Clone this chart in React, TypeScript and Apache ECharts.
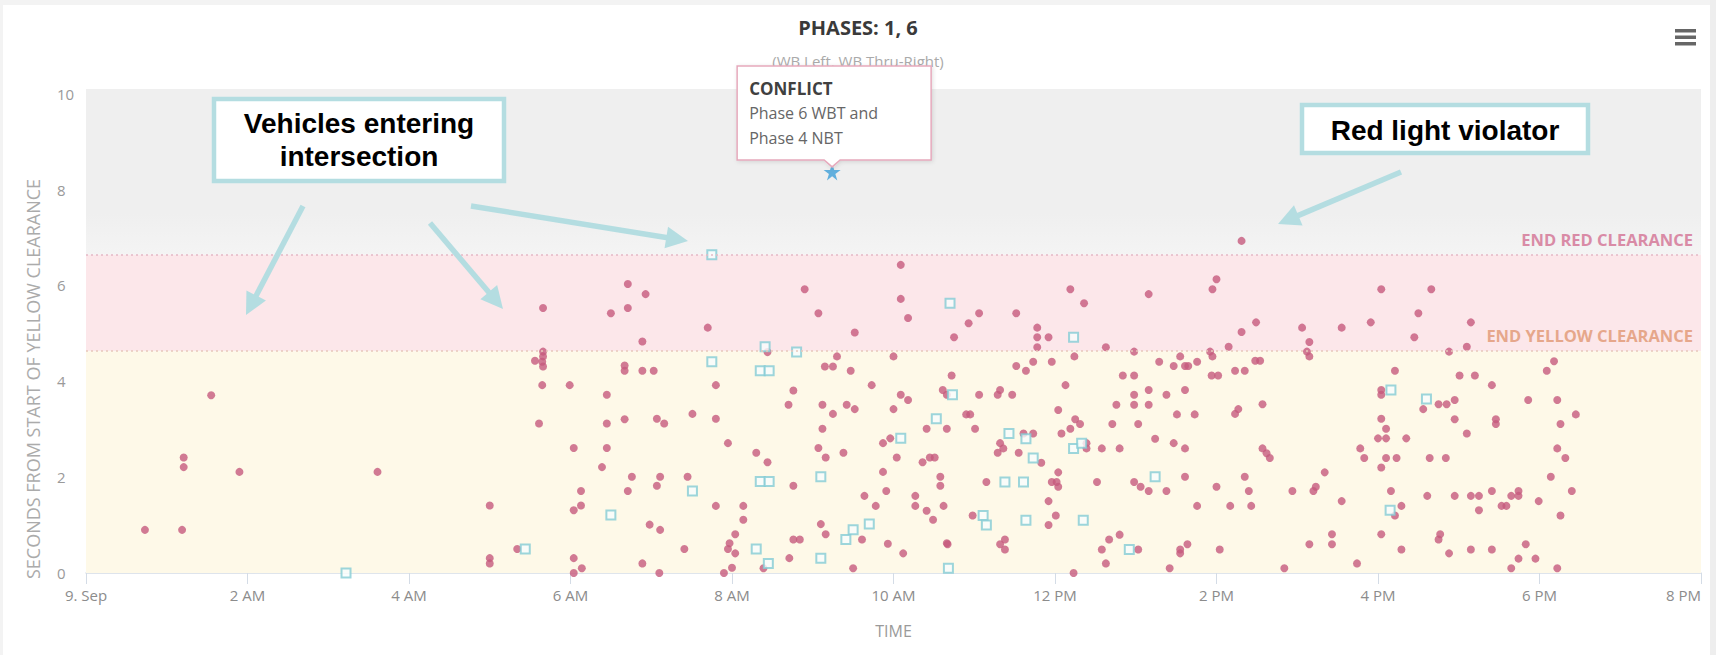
import React, { useEffect, useRef } from "react";
import * as echarts from "echarts";

// ---------- data ----------
const tickLabels = ["9. Sep", "2 AM", "4 AM", "6 AM", "8 AM", "10 AM", "12 PM", "2 PM", "4 PM", "6 PM", "8 PM"];
const endYellowClearance = 4.63;
const endRedClearance = 6.64;

// [hours after midnight, seconds from start of yellow clearance]
const vehicleEntries: [number, number][] = [
  [0.73, 0.9], [1.19, 0.9], [1.21, 2.41], [1.21, 2.21], [1.55, 3.71], [1.9, 2.11], [3.61, 2.11],
  [5.66, 5.53], [6.71, 6.03], [6.93, 5.82], [6.5, 5.42], [6.71, 5.53], [6.89, 4.83],
  [5.66, 4.62], [5.66, 4.52], [5.56, 4.43], [5.65, 4.41], [5.66, 4.31],
  [6.67, 4.33], [6.67, 4.22], [6.89, 4.22], [7.03, 4.22],
  [5.65, 3.92], [5.99, 3.92], [6.45, 3.72],
  [5.61, 3.12], [6.45, 3.12], [6.67, 3.21], [7.07, 3.22], [7.16, 3.12], [7.51, 3.32],
  [6.04, 2.61], [6.45, 2.61], [6.39, 2.21], [6.76, 2.01], [7.11, 2.01], [7.45, 2.01], [7.07, 1.82],
  [6.13, 1.71], [6.71, 1.71], [5.0, 1.41], [6.13, 1.41], [6.04, 1.31], [6.98, 1.01], [7.11, 0.9],
  [5.34, 0.5], [5.0, 0.31], [5.0, 0.2], [6.04, 0.31], [6.14, 0.1], [6.04, 0.0], [6.89, 0.2], [7.1, 0.0], [7.41, 0.5],
  [7.8, 1.4], [8.14, 1.4], [8.14, 1.11], [8.04, 0.81], [7.97, 0.62], [7.95, 0.5], [8.04, 0.41], [8.0, 0.11], [7.9, 0.0],
  [8.39, 0.1], [8.76, 1.82], [8.71, 0.31], [8.76, 0.7], [8.84, 0.7],
  [9.1, 1.02], [9.16, 0.81], [9.64, 1.61], [9.78, 1.4], [9.91, 1.71], [9.61, 0.7], [9.5, 0.1], [9.93, 0.61], [10.12, 0.41],
  [10.27, 1.61], [10.27, 1.4], [10.41, 1.3], [10.49, 1.11], [10.62, 1.4], [10.58, 1.82], [10.66, 0.62],
  [10.09, 6.43], [8.9, 5.92], [10.09, 5.72], [9.07, 5.42], [10.18, 5.32], [7.7, 5.12], [9.52, 5.02],
  [8.44, 4.61], [9.3, 4.52], [9.15, 4.31], [9.25, 4.31], [9.47, 4.22], [10.0, 4.52],
  [7.8, 3.92], [8.76, 3.81], [8.7, 3.51], [9.12, 3.51], [9.25, 3.32], [9.42, 3.51], [9.52, 3.42], [9.73, 3.92],
  [10.09, 3.72], [10.18, 3.61], [10.0, 3.42], [10.61, 3.82], [10.66, 3.72],
  [7.8, 3.22], [9.12, 3.01], [10.41, 3.01], [10.66, 3.01],
  [7.95, 2.71], [9.87, 2.71], [9.96, 2.81], [9.07, 2.61], [9.16, 2.41], [9.38, 2.51], [8.3, 2.51], [8.44, 2.31], [10.04, 2.41],
  [10.36, 2.31], [10.45, 2.41], [10.51, 2.41], [9.87, 2.11], [10.58, 2.01],
  [12.19, 5.92], [13.16, 5.82], [12.36, 5.63], [11.06, 5.42], [11.52, 5.42], [10.93, 5.21],
  [11.78, 5.12], [11.78, 4.92], [11.78, 4.71], [11.92, 4.92], [10.75, 4.92], [12.63, 4.71], [12.98, 4.62],
  [11.73, 4.41], [11.64, 4.22], [11.52, 4.32], [11.96, 4.41], [12.24, 4.52], [13.29, 4.41],
  [13.47, 4.32], [13.55, 4.52], [13.61, 4.32], [13.65, 4.32], [13.76, 4.41],
  [10.72, 4.12], [12.84, 4.12], [12.98, 4.12], [12.13, 3.92],
  [11.06, 3.72], [11.32, 3.82], [11.29, 3.72], [11.47, 3.72], [12.98, 3.72], [12.98, 3.51], [13.16, 3.82], [13.16, 3.51],
  [13.38, 3.72], [13.61, 3.82], [12.76, 3.51], [12.04, 3.4],
  [10.9, 3.31], [10.95, 3.31], [13.51, 3.31], [13.73, 3.31],
  [11.01, 3.01], [12.25, 3.21], [12.31, 3.11], [12.08, 2.91], [12.19, 3.01], [12.71, 3.11], [13.03, 3.11],
  [11.61, 2.91], [11.73, 2.91], [11.32, 2.71], [11.36, 2.6], [11.29, 2.51], [11.55, 2.51], [11.83, 2.3],
  [12.39, 2.71], [12.39, 2.6], [12.58, 2.6], [12.8, 2.6], [13.24, 2.8], [13.47, 2.71], [13.61, 2.6],
  [11.15, 1.9], [11.96, 1.9], [12.02, 1.9], [12.04, 1.8], [12.04, 2.1], [12.52, 1.9], [12.98, 1.9], [13.06, 1.8],
  [13.16, 1.71], [13.38, 1.71], [13.61, 2.01],
  [11.92, 1.5], [13.76, 1.4], [10.98, 1.2], [12.01, 1.2], [11.92, 1.0],
  [10.67, 0.6], [11.32, 0.6], [11.38, 0.7], [11.38, 0.49],
  [12.8, 0.8], [12.67, 0.7], [12.58, 0.49], [12.63, 0.2], [13.03, 0.49],
  [13.55, 0.49], [13.64, 0.6], [13.55, 0.41], [13.42, 0.1], [12.23, 0.0],
  [14.31, 6.93], [14.0, 6.13], [13.95, 5.92], [16.04, 5.92], [16.66, 5.92], [16.5, 5.42], [16.45, 4.92],
  [14.49, 5.23], [14.31, 5.03], [15.06, 5.12], [15.55, 5.12], [15.91, 5.23],
  [15.15, 4.82], [15.12, 4.62], [15.15, 4.52], [14.15, 4.72], [13.92, 4.62], [13.95, 4.52],
  [14.48, 4.43], [14.54, 4.43], [14.23, 4.22], [14.35, 4.22], [13.94, 4.12], [14.02, 4.12],
  [16.88, 4.62], [16.21, 4.22], [16.04, 3.82], [16.04, 3.72], [16.56, 3.42], [16.75, 3.52], [16.85, 3.52],
  [14.57, 3.52], [14.23, 3.32], [14.27, 3.42], [16.04, 3.22], [16.1, 3.01], [16.0, 2.81], [16.1, 2.81], [16.35, 2.81],
  [14.57, 2.6], [14.62, 2.5], [14.66, 2.4], [15.78, 2.6], [15.83, 2.4], [16.1, 2.4], [16.23, 2.4], [16.04, 2.2],
  [16.64, 2.4], [16.84, 2.4],
  [14.35, 2.01], [14.0, 1.8], [14.4, 1.71], [15.34, 2.1], [14.94, 1.71], [15.23, 1.8], [15.2, 1.71], [16.16, 1.71],
  [16.61, 1.61], [15.55, 1.5],
  [14.17, 1.4], [14.43, 1.4], [16.21, 1.2], [16.29, 1.4],
  [15.43, 0.81], [15.43, 0.6], [15.15, 0.6], [16.04, 0.81], [14.04, 0.49], [16.29, 0.49], [16.77, 0.81], [16.75, 0.7],
  [16.88, 0.41], [15.74, 0.2], [14.84, 0.1],
  [17.15, 5.23], [17.1, 4.72], [17.01, 4.12], [17.2, 4.12], [17.41, 3.92], [18.09, 4.22], [18.18, 4.42], [17.86, 3.61],
  [18.22, 3.61], [18.45, 3.31], [18.26, 3.11],
  [16.95, 3.61], [16.95, 3.21], [17.46, 3.21], [17.46, 3.11], [17.1, 2.91], [18.22, 2.6], [18.32, 2.4], [18.14, 2.01],
  [16.95, 1.61], [17.15, 1.61], [17.25, 1.61], [17.41, 1.71], [17.25, 1.31], [17.53, 1.4], [17.59, 1.4], [17.65, 1.61],
  [17.74, 1.71], [17.74, 1.61], [17.99, 1.5], [18.4, 1.71], [18.26, 1.2],
  [17.15, 0.49], [17.41, 0.49], [17.83, 0.6], [17.74, 0.3], [17.65, 0.1], [17.95, 0.3], [18.22, 0.1],
];

const conflictEntries: [number, number][] = [
  [3.22, 0.0], [5.44, 0.5], [6.5, 1.21], [7.51, 1.71], [7.75, 6.64], [7.75, 4.41], [8.41, 4.72], [8.8, 4.61],
  [8.35, 4.22], [8.46, 4.22], [8.35, 1.91], [8.46, 1.91], [9.1, 2.01], [8.3, 0.5], [8.45, 0.2], [9.1, 0.31],
  [9.5, 0.9], [9.41, 0.7], [9.7, 1.02], [10.53, 3.22], [10.09, 2.81], [10.68, 0.1], [10.7, 5.63], [10.73, 3.72],
  [12.23, 4.92], [11.43, 2.91], [11.64, 2.8], [11.73, 2.4], [12.23, 2.6], [12.33, 2.71], [11.38, 1.9], [11.61, 1.9],
  [13.24, 2.01], [11.11, 1.2], [11.15, 1.0], [11.64, 1.1], [12.35, 1.1], [12.92, 0.49], [16.16, 3.82], [16.6, 3.63],
  [16.15, 1.31],
];

const conflictStar: [number, number][] = [[9.24, 8.37]];
const conflictText = ["CONFLICT", "Phase 6 WBT and", "Phase 4 NBT"];

const FONT = "'Open Sans', 'Noto Sans', sans-serif";
const ANNO = "#b4dde1";

function arrow(x1: number, y1: number, x2: number, y2: number) {
  const dx = x2 - x1, dy = y2 - y1;
  const len = Math.hypot(dx, dy);
  const ux = dx / len, uy = dy / len;
  const hl = 22, hw = 11;
  const bx = x2 - ux * hl, by = y2 - uy * hl;
  return [
    { type: "line", z: 50, shape: { x1, y1, x2: bx + ux * 3, y2: by + uy * 3 }, style: { stroke: ANNO, lineWidth: 5.5 } },
    {
      type: "polygon", z: 50,
      shape: { points: [[x2, y2], [bx - uy * hw, by + ux * hw], [bx + uy * hw, by - ux * hw]] },
      style: { fill: ANNO },
    },
  ];
}

export default function App() {
  const ref = useRef<HTMLDivElement>(null);

  useEffect(() => {
    const chart = echarts.init(ref.current as HTMLDivElement, null, { renderer: "svg" });

    const option: any = {
      animation: false,
      backgroundColor: "#ffffff",
      title: {
        text: "PHASES: 1, 6",
        subtext: "(WB Left, WB Thru-Right)",
        left: "center",
        top: 12,
        itemGap: 16,
        textStyle: { fontFamily: FONT, fontSize: 20, fontWeight: "bold", color: "#3a3a3a" },
        subtextStyle: { fontFamily: FONT, fontSize: 15, color: "#aaaaaa" },
      },
      grid: { left: 86, right: 15, top: 89, bottom: 82, containLabel: false },
      xAxis: {
        type: "value",
        min: 0,
        max: 20,
        interval: 2,
        name: "TIME",
        nameLocation: "middle",
        nameGap: 50,
        nameTextStyle: { fontFamily: FONT, fontSize: 16, color: "#9a9a9a" },
        axisLine: { show: true, lineStyle: { color: "#d4dce6", width: 1.5 } },
        axisTick: { show: true, length: 11, lineStyle: { color: "#d4dce6", width: 1 } },
        splitLine: { show: false },
        axisLabel: {
          fontFamily: FONT,
          fontSize: 15,
          color: "#8c8c8c",
          margin: 14,
          alignMaxLabel: "right",
          formatter: (v: number) => tickLabels[Math.round(v / 2)] ?? "",
        },
      },
      yAxis: {
        type: "value",
        min: 0,
        max: 10.1,
        interval: 2,
        axisLine: { show: false },
        axisTick: { show: false },
        splitLine: { show: false },
        axisLabel: {
          fontFamily: FONT,
          fontSize: 15,
          color: "#9a9a9a",
          margin: 29,
          align: "left",
          formatter: (v: number) => (Math.abs(v % 2) < 1e-9 ? String(v) : ""),
        },
      },
      series: [
        {
          name: "bands",
          type: "scatter",
          data: [],
          z: 0,
          silent: true,
          markArea: {
            silent: true,
            data: [
              [
                {
                  yAxis: endRedClearance,
                  itemStyle: {
                    color: new echarts.graphic.LinearGradient(0, 0, 0, 1, [
                      { offset: 0, color: "#efefef" },
                      { offset: 0.75, color: "#efefef" },
                      { offset: 1, color: "#f4f4f4" },
                    ]),
                  },
                },
                { yAxis: 10.1 },
              ],
              [{ yAxis: endYellowClearance, itemStyle: { color: "#fce7ea" } }, { yAxis: endRedClearance }],
              [{ yAxis: 0, itemStyle: { color: "#fef9e8" } }, { yAxis: endYellowClearance }],
            ],
          },
          markLine: {
            silent: true,
            symbol: "none",
            data: [
              {
                yAxis: endRedClearance,
                lineStyle: { color: "#e3b9c6", type: [2, 3], width: 1.5 },
                label: {
                  show: true,
                  position: "insideEndTop",
                  formatter: "END RED CLEARANCE",
                  fontFamily: FONT,
                  fontWeight: "bold",
                  fontSize: 16.5,
                  color: "#d98ba6",
                  distance: [8, 7],
                },
              },
              {
                yAxis: endYellowClearance,
                lineStyle: { color: "#e8c8bb", type: [2, 3], width: 1.5 },
                label: {
                  show: true,
                  position: "insideEndTop",
                  formatter: "END YELLOW CLEARANCE",
                  fontFamily: FONT,
                  fontWeight: "bold",
                  fontSize: 16.5,
                  color: "#e6a78b",
                  distance: [8, 7],
                },
              },
            ],
          },
        },
        {
          name: "Vehicles",
          type: "scatter",
          z: 3,
          data: vehicleEntries,
          symbol: "circle",
          symbolSize: 8,
          itemStyle: { color: "#c65a7d" },
        },
        {
          name: "Conflicts",
          type: "scatter",
          z: 4,
          data: conflictEntries,
          symbol: "rect",
          symbolSize: 9,
          itemStyle: { color: "#f7fcfc", borderColor: "#84ccd4", borderWidth: 2 },
        },
        {
          name: "Conflict",
          type: "scatter",
          z: 5,
          data: conflictStar,
          symbol:
            "path://M50,0 L61.8,35.1 L98.1,35.1 L68.2,56.7 L79.4,91.9 L50,70 L20.6,91.9 L31.8,56.7 L1.9,35.1 L38.2,35.1 Z",
          symbolSize: 17,
          itemStyle: { color: "#3d9fd8" },
        },
      ],
    };

    chart.setOption(option);

    const [sx, sy] = chart.convertToPixel({ xAxisIndex: 0, yAxisIndex: 0 }, conflictStar[0]) as number[];
    const L = sx - 95, R = sx + 99, T = sy - 106, B = sy - 12;

    const graphic: any[] = [
      // screenshot frame
      { type: "rect", z: 100, shape: { x: 0, y: 0, width: 1716, height: 5 }, style: { fill: "#f3f3f3" } },
      { type: "rect", z: 100, shape: { x: 0, y: 0, width: 3, height: 655 }, style: { fill: "#f3f3f3" } },
      { type: "rect", z: 100, shape: { x: 1710, y: 0, width: 6, height: 655 }, style: { fill: "#eeeeee" } },
      // y axis title
      {
        type: "text",
        x: 33,
        y: 379,
        rotation: Math.PI / 2,
        style: {
          text: "SECONDS FROM START OF YELLOW CLEARANCE",
          fontFamily: FONT,
          fontSize: 18,
          fill: "#ababab",
          textAlign: "center",
          textVerticalAlign: "middle",
        },
      },
      // menu icon
      { type: "rect", shape: { x: 1675, y: 29, width: 21, height: 3.5 }, style: { fill: "#666666" } },
      { type: "rect", shape: { x: 1675, y: 35.5, width: 21, height: 3.5 }, style: { fill: "#666666" } },
      { type: "rect", shape: { x: 1675, y: 42, width: 21, height: 3.5 }, style: { fill: "#666666" } },
      // tooltip for the conflict
      {
        type: "polygon",
        z: 60,
        shape: {
          points: [[L, T], [R, T], [R, B], [sx + 8, B], [sx, B + 7], [sx - 8, B], [L, B]],
        },
        style: {
          fill: "#ffffff",
          stroke: "#e6a9bc",
          lineWidth: 1.5,
          shadowBlur: 4,
          shadowColor: "rgba(0,0,0,0.12)",
          shadowOffsetX: 1,
          shadowOffsetY: 1,
        },
      },
      {
        type: "text", z: 61, x: L + 12, y: T + 23,
        style: { text: conflictText[0], fontFamily: FONT, fontWeight: "bold", fontSize: 17, fill: "#404040", textVerticalAlign: "middle" },
      },
      {
        type: "text", z: 61, x: L + 12, y: T + 47,
        style: { text: conflictText[1], fontFamily: FONT, fontSize: 16, fill: "#666666", textVerticalAlign: "middle" },
      },
      {
        type: "text", z: 61, x: L + 12, y: T + 72,
        style: { text: conflictText[2], fontFamily: FONT, fontSize: 16, fill: "#666666", textVerticalAlign: "middle" },
      },
      // annotation boxes
      {
        type: "rect", z: 50, shape: { x: 214, y: 99, width: 290, height: 82 },
        style: { fill: "#ffffff", stroke: ANNO, lineWidth: 4.5 },
      },
      {
        type: "text", z: 51, x: 359, y: 140,
        style: {
          text: "Vehicles entering\nintersection",
          fontFamily: "'Liberation Sans', Arial, sans-serif",
          fontWeight: "bold",
          fontSize: 28,
          lineHeight: 33,
          fill: "#000000",
          textAlign: "center",
          textVerticalAlign: "middle",
        },
      },
      {
        type: "rect", z: 50, shape: { x: 1302, y: 105, width: 286, height: 48 },
        style: { fill: "#ffffff", stroke: ANNO, lineWidth: 4.5 },
      },
      {
        type: "text", z: 51, x: 1445, y: 130,
        style: {
          text: "Red light violator",
          fontFamily: "'Liberation Sans', Arial, sans-serif",
          fontWeight: "bold",
          fontSize: 28,
          fill: "#000000",
          textAlign: "center",
          textVerticalAlign: "middle",
        },
      },
      ...arrow(303, 206, 246, 315),
      ...arrow(430, 223, 503, 309),
      ...arrow(471, 206, 688, 241),
      ...arrow(1401, 172, 1278, 224),
    ];

    chart.setOption({ graphic });

    return () => chart.dispose();
  }, []);

  return (
    <div
      ref={ref}
      style={{ position: "absolute", left: 0, top: 0, width: 1716, height: 655 }}
    />
  );
}
